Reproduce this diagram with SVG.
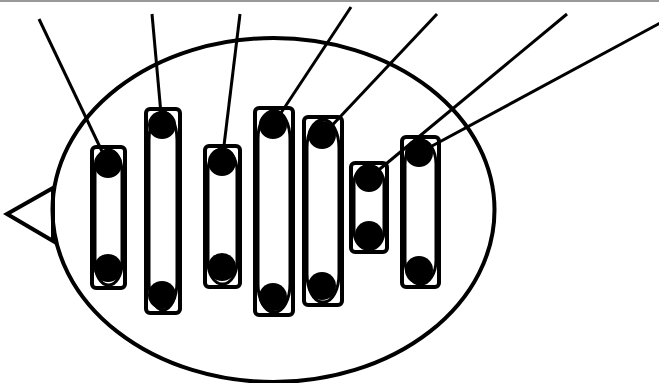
<svg xmlns="http://www.w3.org/2000/svg" width="659" height="383" viewBox="0 0 659 383">
<style>
.cell{fill:none;stroke:#000;stroke-width:4}
.outer{fill:none;stroke:#000;stroke-width:4}
.inner{fill:none;stroke:#000;stroke-width:3}
.dot{fill:#000}
.link{stroke:#000;stroke-width:3;fill:none}
</style>
<rect x="0" y="0" width="659" height="383" fill="#fff"/>
<line x1="0" y1="1" x2="659" y2="1" stroke="#999" stroke-width="2"/>
<g id="cell">
<ellipse class="cell" cx="273.5" cy="210" rx="221" ry="172"/>
<polygon class="cell" points="7,214 53,188 53,241" stroke-linejoin="miter"/>
</g>
<g id="connectors">
<line class="link" x1="39" y1="19" x2="108" y2="164"/>
<line class="link" x1="152" y1="14" x2="162" y2="125"/>
<line class="link" x1="240" y1="14" x2="222" y2="162"/>
<line class="link" x1="351" y1="7" x2="273" y2="125"/>
<line class="link" x1="437" y1="14" x2="323" y2="135"/>
<line class="link" x1="567" y1="14" x2="369" y2="178"/>
<line class="link" x1="662" y1="22" x2="419" y2="153"/>
</g>
<g id="c1">
<rect class="outer" x="92" y="147" width="33" height="141" rx="4"/>
<rect class="inner" x="95" y="150" width="27" height="135" rx="13" ry="22"/>
<circle class="dot" cx="108" cy="164" r="14"/>
<circle class="dot" cx="108" cy="268" r="14"/>
</g>
<g id="c2">
<rect class="outer" x="146" y="109" width="34" height="204" rx="4"/>
<rect class="inner" x="149" y="112" width="28" height="198" rx="14" ry="28"/>
<circle class="dot" cx="162" cy="125" r="14"/>
<circle class="dot" cx="162" cy="295" r="14"/>
</g>
<g id="c3">
<rect class="outer" x="205" y="146" width="35" height="141" rx="4"/>
<rect class="inner" x="208" y="149" width="29" height="135" rx="14" ry="22"/>
<circle class="dot" cx="222" cy="162" r="14"/>
<circle class="dot" cx="222" cy="267" r="14"/>
</g>
<g id="c4">
<rect class="outer" x="255" y="108" width="38" height="207" rx="4"/>
<rect class="inner" x="258" y="111" width="32" height="201" rx="15" ry="28"/>
<circle class="dot" cx="273" cy="125" r="14"/>
<circle class="dot" cx="273" cy="297" r="14"/>
</g>
<g id="c5">
<rect class="outer" x="304" y="117" width="38" height="188" rx="4"/>
<rect class="inner" x="307" y="120" width="32" height="182" rx="15" ry="28"/>
<circle class="dot" cx="322" cy="135" r="14"/>
<circle class="dot" cx="322" cy="286" r="14"/>
</g>
<g id="c6">
<rect class="outer" x="351" y="163" width="36" height="89" rx="4"/>
<rect class="inner" x="354" y="166" width="30" height="83" rx="14" ry="18"/>
<circle class="dot" cx="369" cy="178" r="14"/>
<circle class="dot" cx="369" cy="235" r="14"/>
</g>
<g id="c7">
<rect class="outer" x="402" y="137" width="37" height="150" rx="4"/>
<rect class="inner" x="405" y="140" width="31" height="144" rx="15" ry="24"/>
<circle class="dot" cx="419" cy="153" r="14"/>
<circle class="dot" cx="419" cy="270" r="14"/>
</g>
</svg>
